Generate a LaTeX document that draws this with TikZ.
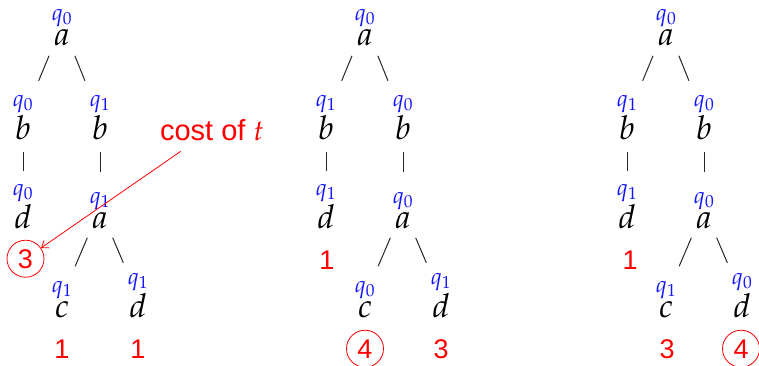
\documentclass[tikz,border=0pt]{standalone}
\usepackage[no-math]{fontspec}
\usepackage{mathpazo}
\newfontfamily\arialf{Liberation Sans}
\usetikzlibrary{calc,arrows.meta}
\definecolor{qblue}{RGB}{20,20,255}
\definecolor{cred}{RGB}{255,0,0}
\tikzset{
  lett/.style={inner sep=0pt, anchor=base, font=\fontsize{33}{33}\selectfont},
  qlab/.style={inner sep=0pt, text=qblue, font=\fontsize{23}{23}\selectfont},
  ql/.style={label={[qlab,label distance=2pt]90:$q_{#1}$}},
  treeline/.style={line width=1pt, black!85},
  num/.style={inner sep=0pt, anchor=base, text=cred, font=\arialf\fontsize{27}{27}\selectfont},
  cnum/.style={num, circle, draw=cred, line width=0.8pt, minimum size=37pt},
  costlab/.style={inner sep=0pt, anchor=base, text=cred, font=\arialf\fontsize{29}{29}\selectfont},
  costarrow/.style={draw=cred, line width=0.8pt, -{Straight Barb[length=6pt,width=9pt]}, shorten <=19pt}
}
\newcommand\tedge[5]{\draw[treeline] ([xshift=#3pt]$(#1.base)!#4!(#2.base)$) -- ([xshift=#3pt]$(#1.base)!#5!(#2.base)$);}
\newcommand\mytree[9]{%
\begin{scope}[xshift=#2]
\node[lett,ql=#3] (#1r) at (62,45) {$a$};
\node[lett,ql=#4] (#1b1) at (23,139) {$b$};
\node[lett,ql=#5] (#1b2) at (100,139) {$b$};
\node[lett,ql=#6] (#1d1) at (23,228) {$d$};
\node[lett,ql=#7] (#1a2) at (100,228) {$a$};
\node[lett,ql=#8] (#1c) at (62,317) {$c$};
\node[lett,ql=#9] (#1d2) at (138,317) {$d$};
\tedge{#1r}{#1b1}{-8.5}{0.115}{0.38}
\tedge{#1r}{#1b2}{8.5}{0.115}{0.38}
\tedge{#1b1}{#1d1}{0.5}{0.144}{0.356}
\tedge{#1b2}{#1a2}{0.5}{0.144}{0.37}
\tedge{#1a2}{#1c}{-8.5}{0.11}{0.43}
\tedge{#1a2}{#1d2}{8.5}{0.11}{0.39}
\end{scope}}
\begin{document}
\begin{tikzpicture}[x=1pt,y=-1pt]
\useasboundingbox (0,0) rectangle (759,365);
\mytree{s}{0pt}{0}{0}{1}{0}{1}{1}{1}
\mytree{m}{303pt}{0}{1}{0}{1}{0}{0}{1}
\mytree{e}{604pt}{0}{1}{0}{1}{0}{1}{0}
% tree 1 costs
\node[cnum] (sn3) at (25.5,268) {3};
\node[num] (snc) at (62,358) {1};
\node[num] (snd) at (138,358) {1};
% tree 2 costs
\node[num] (mnd1) at (327,269) {1};
\node[cnum] (mnc) at (365,358) {4};
\node[num] (mnd) at (441,358) {3};
% tree 3 costs
\node[num] (end1) at (630,269) {1};
\node[num] (enc) at (667,358) {3};
\node[cnum] (end) at (741,358) {4};
% label
\node[costlab] (cost) at (212,140) {cost of $t$};
\draw[costarrow] (cost) -- (sn3);
\end{tikzpicture}
\end{document}
